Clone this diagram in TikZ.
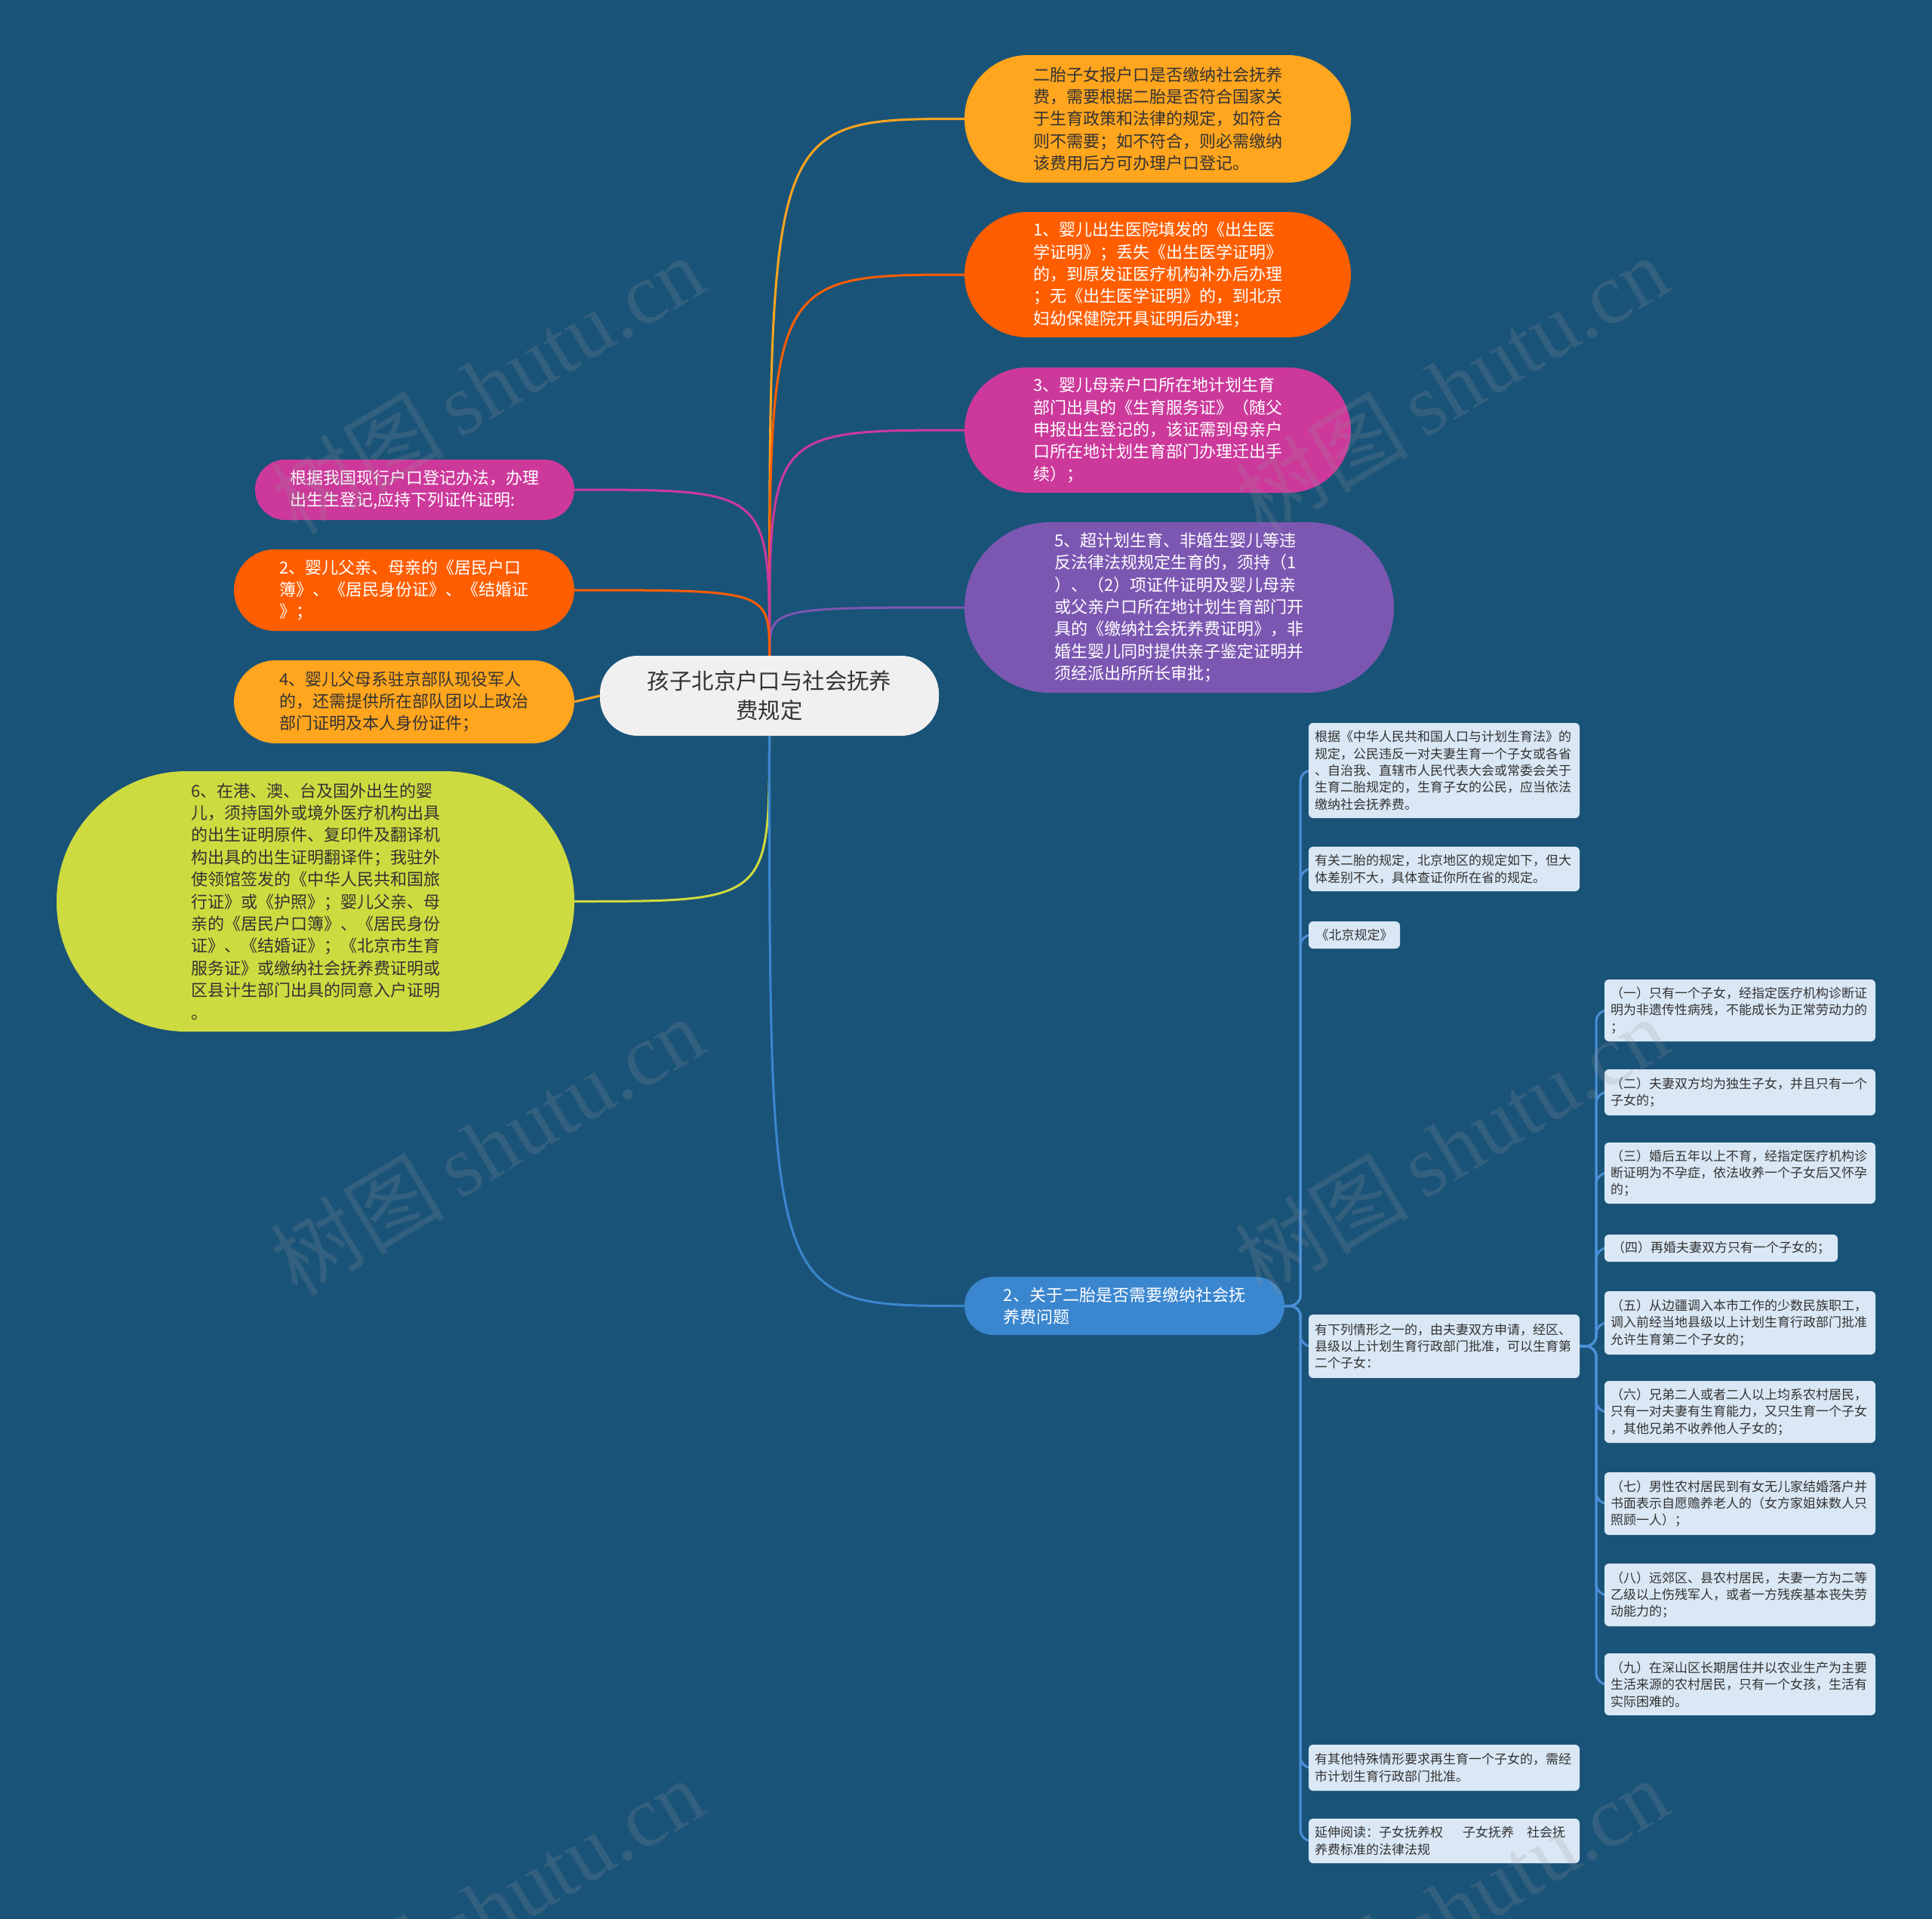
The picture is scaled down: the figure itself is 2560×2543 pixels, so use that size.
\documentclass[tikz,border=0pt]{standalone}
\usepackage{fontspec}
\usetikzlibrary{backgrounds}
\newfontfamily\cjk{Noto Sans CJK SC}
\newfontfamily\wmserif{Liberation Serif}
\definecolor{bgc}{RGB}{26,83,120}
\definecolor{cYel}{RGB}{255,165,30}
\definecolor{cOra}{RGB}{255,94,0}
\definecolor{cMag}{RGB}{204,57,155}
\definecolor{cPur}{RGB}{124,87,178}
\definecolor{cBlu}{RGB}{58,134,207}
\definecolor{cLim}{RGB}{206,219,64}
\definecolor{cRoot}{RGB}{240,240,240}
\definecolor{cLight}{RGB}{218,232,245}
\definecolor{cTree}{RGB}{74,144,217}
\definecolor{txt}{RGB}{51,51,51}
\definecolor{wm}{RGB}{150,150,150}
\begin{document}
\begin{tikzpicture}[x=1pt,y=-1pt,
  base/.style={inner sep=0pt, align=left},
  big/.style={base, font=\cjk\fontsize{22}{29.4}\selectfont},
  leaf/.style={base, fill=cLight, rounded corners=6pt, text=txt, inner xsep=8pt, font=\cjk\fontsize{17}{22.4}\selectfont},
  leafw/.style={leaf, text width=343pt},
  link/.style={line width=3pt},
  tree/.style={line width=3pt, draw=cTree, rounded corners=14pt},
  wmark/.style={rotate=31, opacity=0.2, text=wm, inner sep=0pt}
]
\useasboundingbox (0,0) rectangle (2560,2543);

% root
\node[base, align=center, fill=cRoot, text=txt, rounded corners=50pt, minimum width=449pt, minimum height=106pt, font=\cjk\fontsize{29.4}{39}\selectfont] (root) at (1019.5,922) {孩子北京户口与社会抚养\\费规定};

% right branches
\node[big, fill=cYel, text=txt, rounded corners=84pt, minimum width=512pt, minimum height=169pt] (R1) at (1534,157.5) {二胎子女报户口是否缴纳社会抚养\\费，需要根据二胎是否符合国家关\\于生育政策和法律的规定，如符合\\则不需要；如不符合，则必需缴纳\\该费用后方可办理户口登记。};
\node[big, fill=cOra, text=white, rounded corners=83pt, minimum width=512pt, minimum height=166pt] (R2) at (1534,364) {1、婴儿出生医院填发的《出生医\\学证明》；丢失《出生医学证明》\\的，到原发证医疗机构补办后办理\\；无《出生医学证明》的，到北京\\妇幼保健院开具证明后办理；};
\node[big, fill=cMag, text=white, rounded corners=83pt, minimum width=512pt, minimum height=166pt] (R3) at (1534,570) {3、婴儿母亲户口所在地计划生育\\部门出具的《生育服务证》（随父\\申报出生登记的，该证需到母亲户\\口所在地计划生育部门办理迁出手\\续）；};
\node[big, fill=cPur, text=white, rounded corners=113pt, minimum width=569pt, minimum height=226pt] (R4) at (1562.5,805) {5、超计划生育、非婚生婴儿等违\\反法律法规规定生育的，须持（1\\）、（2）项证件证明及婴儿母亲\\或父亲户口所在地计划生育部门开\\具的《缴纳社会抚养费证明》，非\\婚生婴儿同时提供亲子鉴定证明并\\须经派出所所长审批；};
\node[big, fill=cBlu, text=white, rounded corners=38pt, minimum width=424pt, minimum height=77pt] (B) at (1490,1730.5) {2、关于二胎是否需要缴纳社会抚\\养费问题};

% left branches
\node[big, fill=cMag, text=white, rounded corners=40pt, minimum width=423pt, minimum height=80pt] (La) at (549.5,649) {根据我国现行户口登记办法，办理\\出生生登记,应持下列证件证明:};
\node[big, fill=cOra, text=white, rounded corners=54pt, minimum width=451pt, minimum height=108pt] (Lb) at (535.5,782) {2、婴儿父亲、母亲的《居民户口\\簿》、《居民身份证》、《结婚证\\》；};
\node[big, fill=cYel, text=txt, rounded corners=55pt, minimum width=451pt, minimum height=110pt] (Lc) at (535.5,930) {4、婴儿父母系驻京部队现役军人\\的，还需提供所在部队团以上政治\\部门证明及本人身份证件；};
\node[big, fill=cLim, text=txt, rounded corners=172pt, minimum width=686pt, minimum height=345pt] (Ld) at (418,1194.5) {6、在港、澳、台及国外出生的婴\\儿，须持国外或境外医疗机构出具\\的出生证明原件、复印件及翻译机\\构出具的出生证明翻译件；我驻外\\使领馆签发的《中华人民共和国旅\\行证》或《护照》；婴儿父亲、母\\亲的《居民户口簿》、《居民身份\\证》、《结婚证》；《北京市生育\\服务证》或缴纳社会抚养费证明或\\区县计生部门出具的同意入户证明\\。};

% children of B
\node[leafw, minimum height=126pt] (L1) at (1913.5,1021) {根据《中华人民共和国人口与计划生育法》的\\规定，公民违反一对夫妻生育一个子女或各省\\、自治我、直辖市人民代表大会或常委会关于\\生育二胎规定的，生育子女的公民，应当依法\\缴纳社会抚养费。};
\node[leafw, minimum height=59pt] (L2) at (1913.5,1151.5) {有关二胎的规定，北京地区的规定如下，但大\\体差别不大，具体查证你所在省的规定。};
\node[leaf, minimum width=121pt, minimum height=36pt] (L3) at (1794.5,1239) {《北京规定》};
\node[leafw, minimum height=84pt] (L4) at (1913.5,1784) {有下列情形之一的，由夫妻双方申请，经区、\\县级以上计划生育行政部门批准，可以生育第\\二个子女：};
\node[leafw, minimum height=61pt] (L5) at (1913.5,2342.5) {有其他特殊情形要求再生育一个子女的，需经\\市计划生育行政部门批准。};
\node[leafw, minimum height=59pt] (L6) at (1913.5,2439.5) {延伸阅读：子女抚养权\hspace{26pt}子女抚养\hspace{17pt}社会抚\\养费标准的法律法规};

% children of L4
\node[leafw, minimum height=82pt] (G1) at (2305.5,1339) {（一）只有一个子女，经指定医疗机构诊断证\\明为非遗传性病残，不能成长为正常劳动力的\\；};
\node[leafw, minimum height=61pt] (G2) at (2305.5,1447.5) {（二）夫妻双方均为独生子女，并且只有一个\\子女的；};
\node[leafw, minimum height=81pt] (G3) at (2305.5,1554.5) {（三）婚后五年以上不育，经指定医疗机构诊\\断证明为不孕症，依法收养一个子女后又怀孕\\的；};
\node[leaf, minimum width=309pt, minimum height=36pt] (G4) at (2280.5,1654) {（四）再婚夫妻双方只有一个子女的；};
\node[leafw, minimum height=84pt] (G5) at (2305.5,1753) {（五）从边疆调入本市工作的少数民族职工，\\调入前经当地县级以上计划生育行政部门批准\\允许生育第二个子女的；};
\node[leafw, minimum height=82pt] (G6) at (2305.5,1871) {（六）兄弟二人或者二人以上均系农村居民，\\只有一对夫妻有生育能力，又只生育一个子女\\，其他兄弟不收养他人子女的；};
\node[leafw, minimum height=83pt] (G7) at (2305.5,1992.5) {（七）男性农村居民到有女无儿家结婚落户并\\书面表示自愿赡养老人的（女方家姐妹数人只\\照顾一人）；};
\node[leafw, minimum height=83pt] (G8) at (2305.5,2113.5) {（八）远郊区、县农村居民，夫妻一方为二等\\乙级以上伤残军人，或者一方残疾基本丧失劳\\动能力的；};
\node[leafw, minimum height=82pt] (G9) at (2305.5,2232) {（九）在深山区长期居住并以农业生产为主要\\生活来源的农村居民，只有一个女孩，生活有\\实际困难的。};

\begin{scope}[on background layer]
\fill[bgc] (0,0) rectangle (2560,2543);
% root connectors
\draw[link, cYel] (root.north) .. controls (root.north |- R1.west) .. (R1.west);
\draw[link, cOra] (root.north) .. controls (root.north |- R2.west) .. (R2.west);
\draw[link, cMag] (root.north) .. controls (root.north |- R3.west) .. (R3.west);
\draw[link, cPur] (root.north) .. controls (root.north |- R4.west) .. (R4.west);
\draw[link, cMag] (root.north) .. controls (root.north |- La.east) .. (La.east);
\draw[link, cOra] (root.north) .. controls (root.north |- Lb.east) .. (Lb.east);
\draw[link, cYel] (root.west) -- (Lc.east);
\draw[link, cLim] (root.south) .. controls (root.south |- Ld.east) .. (Ld.east);
\draw[link, cBlu] (root.south) .. controls (root.south |- B.west) .. (B.west);
% tree connectors
\foreach \n in {L1,L2,L3,L4,L5,L6}
  \draw[tree] (B.east) -- ++(21,0) |- (\n.west);
\foreach \n in {G1,G2,G3,G4,G5,G6,G7,G8,G9}
  \draw[tree] (L4.east) -- ++(22,0) |- (\n.west);
\end{scope}

% watermarks
\foreach \x/\y in {645/509, 1923/509, 645/1518, 1923/1518, 645/2527, 1923/2527}
  \node[wmark] (w\x\y) at (\x,\y) {\fontsize{115}{115}\selectfont{\cjk 树图}\hspace{20pt}{\wmserif shutu.cn}};
\end{tikzpicture}
\end{document}
